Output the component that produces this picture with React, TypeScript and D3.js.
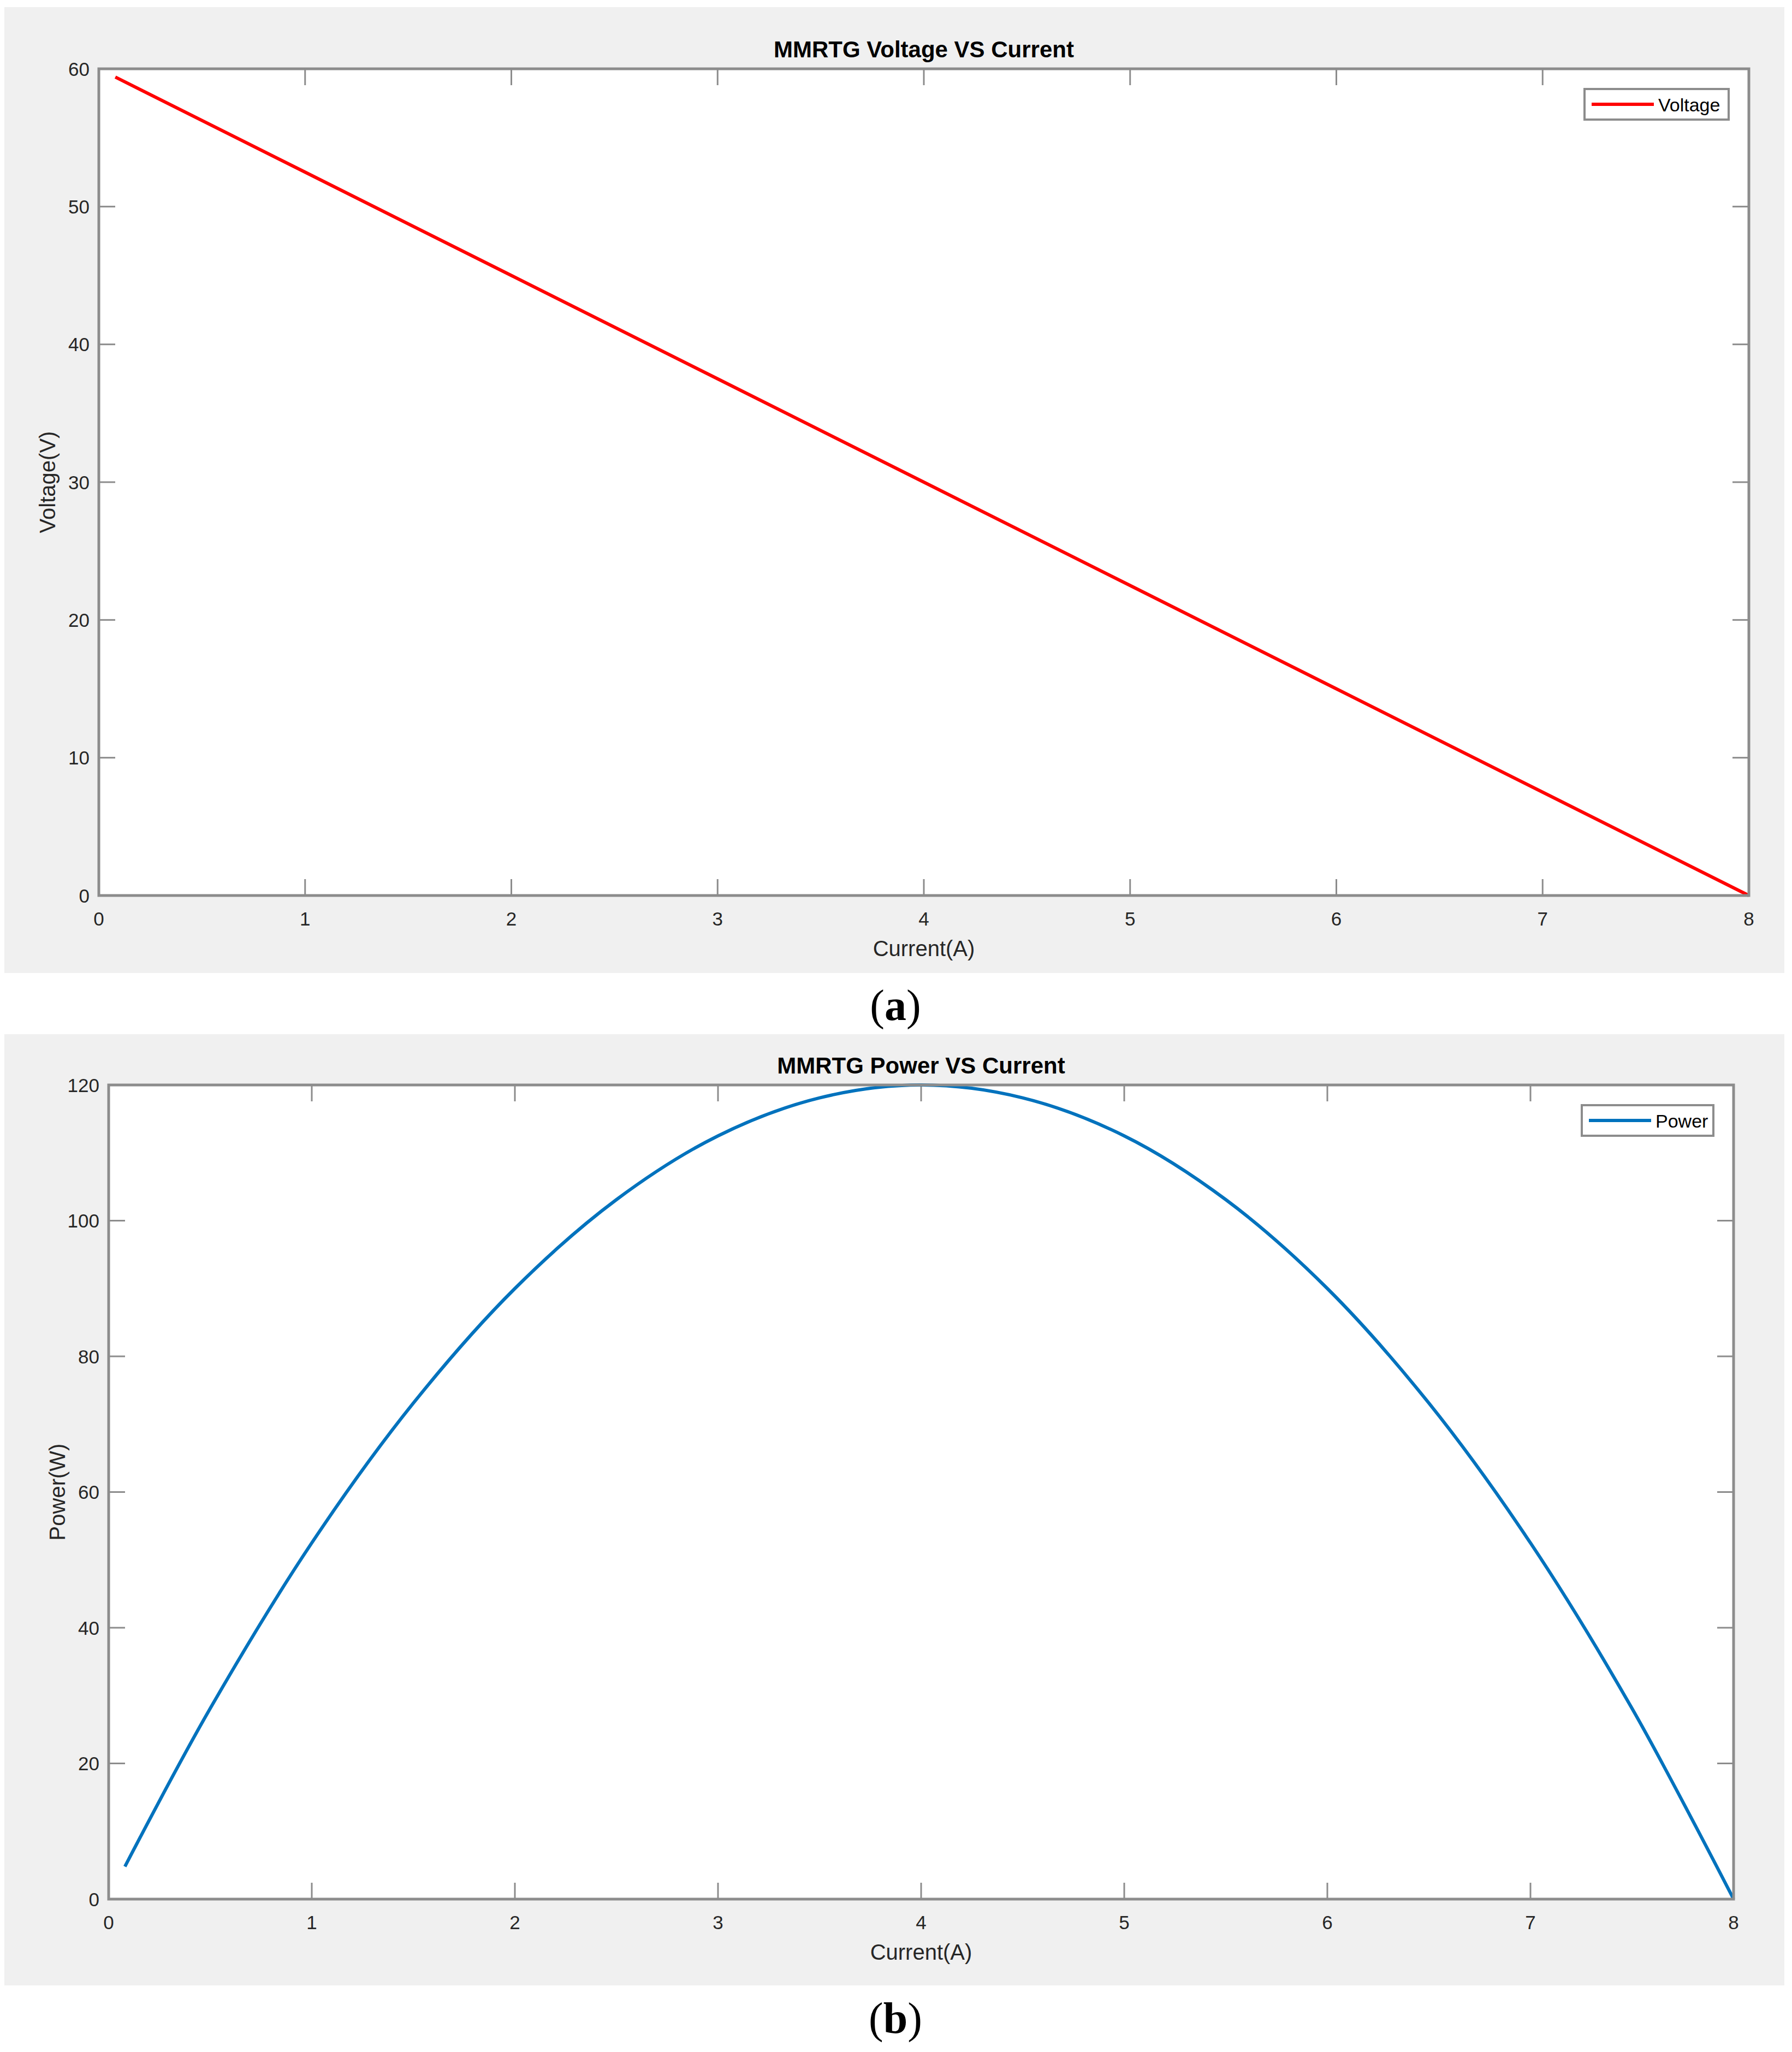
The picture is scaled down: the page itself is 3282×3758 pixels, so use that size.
import React from 'react';
import * as d3 from 'd3';

// readings taken off the two MATLAB plots
const xTicks = [0, 1, 2, 3, 4, 5, 6, 7, 8];
const voltageTicks = [0, 10, 20, 30, 40, 50, 60];
const powerTicks = [0, 20, 40, 60, 80, 100, 120];

const voltageCurrent = [0.08, 1, 2, 3, 4, 5, 6, 7, 8];
const voltageValues = [59.4, 52.5, 45, 37.5, 30, 22.5, 15, 7.5, 0];

const powerCurrent = [0.08, 0.5, 1, 1.5, 2, 2.5, 3, 3.5, 4, 4.5, 5, 5.5, 6, 6.5, 7, 7.5, 8];
const powerValues = [4.8, 28.1, 52.5, 73.1, 90, 103.1, 112.5, 118.1, 120, 118.1, 112.5, 103.1, 90, 73.1, 52.5, 28.1, 0];

const W = 3282;
const H = 3758;
const SANS = '"Liberation Sans", Arial, Helvetica, sans-serif';
const SERIF = '"Liberation Serif", "Times New Roman", serif';
const AXIS_GRAY = '#8c8c8c';
const TEXT = '#262626';

type Box = { left: number; right: number; top: number; bottom: number };

type PanelProps = {
  bgTop: number;
  bgBottom: number;
  box: Box;
  yMax: number;
  yTicks: number[];
  xs: number[];
  ys: number[];
  color: string;
  lineWidth: number;
  title: string;
  yLabel: string;
  legend: string;
  legendWidth: number;
  caption: string;
  captionY: number;
  curved: boolean;
};

const Panel = (p: PanelProps) => {
  const { box } = p;
  const x = d3.scaleLinear().domain([0, 8]).range([box.left, box.right]);
  const y = d3.scaleLinear().domain([0, p.yMax]).range([box.bottom, box.top]);
  const pts = p.xs.map((v, i) => [v, p.ys[i]] as [number, number]);
  const line = d3
    .line<[number, number]>()
    .x((d) => x(d[0]))
    .y((d) => y(d[1]))
    .curve(p.curved ? d3.curveCatmullRom : d3.curveLinear);
  const tickLen = 30;
  const midX = (box.left + box.right) / 2;
  const midY = (box.top + box.bottom) / 2;
  const lgRight = box.right - 37;
  const lgLeft = lgRight - p.legendWidth;
  const lgTop = box.top + 37;
  const lgH = 56;

  return (
    <g>
      <rect x={8} y={p.bgTop} width={3260} height={p.bgBottom - p.bgTop} fill="#f0f0f0" />
      <rect x={box.left} y={box.top} width={box.right - box.left} height={box.bottom - box.top} fill="#fff" />

      {/* ticks on all four sides, pointing inward */}
      {xTicks.map((t) => (
        <g key={'xt' + t} stroke={AXIS_GRAY} strokeWidth={3}>
          <line x1={x(t)} x2={x(t)} y1={box.bottom} y2={box.bottom - tickLen} />
          <line x1={x(t)} x2={x(t)} y1={box.top} y2={box.top + tickLen} />
        </g>
      ))}
      {p.yTicks.map((t) => (
        <g key={'yt' + t} stroke={AXIS_GRAY} strokeWidth={3}>
          <line x1={box.left} x2={box.left + tickLen} y1={y(t)} y2={y(t)} />
          <line x1={box.right} x2={box.right - tickLen} y1={y(t)} y2={y(t)} />
        </g>
      ))}

      <path d={line(pts) || ''} fill="none" stroke={p.color} strokeWidth={p.lineWidth} strokeLinejoin="round" />

      <rect
        x={box.left}
        y={box.top}
        width={box.right - box.left}
        height={box.bottom - box.top}
        fill="none"
        stroke={AXIS_GRAY}
        strokeWidth={5}
      />

      <g fontFamily={SANS} fontSize={35} fill={TEXT}>
        {xTicks.map((t) => (
          <text key={'xl' + t} x={x(t)} y={box.bottom + 42} textAnchor="middle" dominantBaseline="central">
            {t}
          </text>
        ))}
        {p.yTicks.map((t) => (
          <text key={'yl' + t} x={box.left - 17} y={y(t)} textAnchor="end" dominantBaseline="central">
            {t}
          </text>
        ))}
      </g>

      <text x={midX} y={box.top - 21} textAnchor="middle" fontFamily={SANS} fontSize={42} fontWeight="bold" fill="#000">
        {p.title}
      </text>
      <text x={midX} y={box.bottom + 97} textAnchor="middle" dominantBaseline="central" fontFamily={SANS} fontSize={40} fill={TEXT}>
        Current(A)
      </text>
      <text
        transform={`translate(${box.left - 94},${midY}) rotate(-90)`}
        textAnchor="middle"
        dominantBaseline="central"
        fontFamily={SANS}
        fontSize={40}
        fill={TEXT}
      >
        {p.yLabel}
      </text>

      {/* legend */}
      <rect x={lgLeft} y={lgTop} width={p.legendWidth} height={lgH} fill="#fff" stroke={AXIS_GRAY} strokeWidth={4} />
      <line x1={lgLeft + 13} x2={lgLeft + 127} y1={lgTop + lgH / 2} y2={lgTop + lgH / 2} stroke={p.color} strokeWidth={6} />
      <text x={lgLeft + 135} y={lgTop + lgH / 2 + 1} dominantBaseline="central" fontFamily={SANS} fontSize={34} fill="#000">
        {p.legend}
      </text>

      <text x={1640} y={p.captionY} textAnchor="middle" fontFamily={SERIF} fontSize={80} fill="#000">
        (<tspan fontWeight="bold">{p.caption}</tspan>)
      </text>
    </g>
  );
};

export default function App() {
  return (
    <svg
      width={W}
      height={H}
      viewBox={`0 0 ${W} ${H}`}
      style={{ position: 'absolute', left: 0, top: 0, background: '#fff' }}
    >
      <Panel
        bgTop={13}
        bgBottom={1782}
        box={{ left: 181, right: 3203, top: 126, bottom: 1640 }}
        yMax={60}
        yTicks={voltageTicks}
        xs={voltageCurrent}
        ys={voltageValues}
        color="#ff0000"
        lineWidth={6}
        title="MMRTG Voltage VS Current"
        yLabel="Voltage(V)"
        legend="Voltage"
        legendWidth={264}
        caption="a"
        captionY={1868}
        curved={false}
      />
      <Panel
        bgTop={1894}
        bgBottom={3636}
        box={{ left: 199, right: 3175, top: 1987, bottom: 3478 }}
        yMax={120}
        yTicks={powerTicks}
        xs={powerCurrent}
        ys={powerValues}
        color="#0072bd"
        lineWidth={6}
        title="MMRTG Power VS Current"
        yLabel="Power(W)"
        legend="Power"
        legendWidth={241}
        caption="b"
        captionY={3723}
        curved={true}
      />
    </svg>
  );
}
